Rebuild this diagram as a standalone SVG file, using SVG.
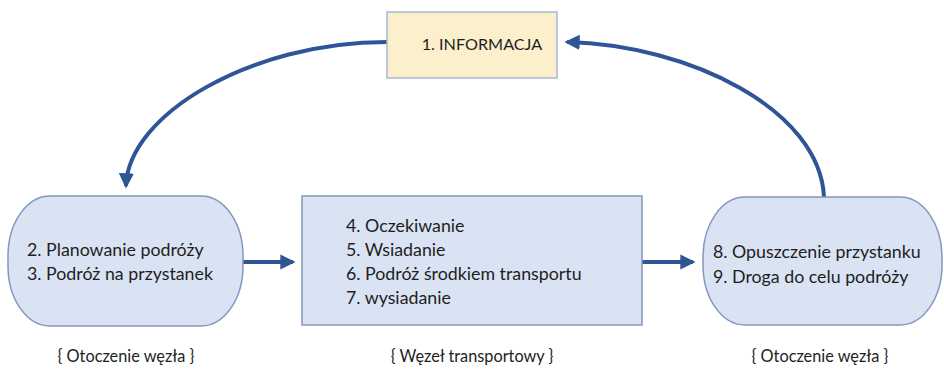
<svg xmlns="http://www.w3.org/2000/svg" width="944" height="372" viewBox="0 0 944 372">
<style>
.t{font-family:Lato,"Open Sans","Liberation Sans",sans-serif;font-size:17.8px;fill:#1E1E1E}
.lbl{font-family:Lato,"Open Sans","Liberation Sans",sans-serif;font-size:16.3px;fill:#1E1E1E;text-anchor:middle}
.node{fill:#DAE3F3;stroke:#8497BE;stroke-width:1.5}
.con{fill:none;stroke:#2F5597;stroke-width:4}
</style>
<defs>
<marker id="ah" viewBox="0 0 12 12" refX="10" refY="6" markerWidth="3.8" markerHeight="3.8" orient="auto" markerUnits="strokeWidth">
<path d="M0,0 L12,6 L0,12 z" fill="#2F5597"/>
</marker>
</defs>
<rect width="944" height="372" fill="#fff"/>
<g id="connectors">
<path class="con" d="M387,42 C250,42 128,115 126,186" marker-end="url(#ah)"/>
<path class="con" d="M824,197 C820,110 690,45 567,42" marker-end="url(#ah)"/>
<path class="con" d="M243,262 L293,262" marker-end="url(#ah)"/>
<path class="con" d="M642,262 L693,262" marker-end="url(#ah)"/>
</g>
<g id="n1">
<rect x="387" y="12" width="170" height="66" fill="#FCEFCB" stroke="#A9B8D6" stroke-width="1.5"/>
<text class="t" x="482" y="50" text-anchor="middle" style="font-size:16.2px">1. INFORMACJA</text>
</g>
<g id="n2">
<rect class="node" x="8" y="196" width="235" height="130" rx="42" ry="60"/>
<text class="t" x="27" y="256">2. Planowanie podróży</text>
<text class="t" x="27" y="280">3. Podróż na przystanek</text>
</g>
<g id="n3">
<rect class="node" x="302" y="196" width="340" height="129"/>
<text class="t" x="346" y="232">4. Oczekiwanie</text>
<text class="t" x="346" y="256">5. Wsiadanie</text>
<text class="t" x="346" y="280">6. Podróż środkiem transportu</text>
<text class="t" x="346" y="304">7. wysiadanie</text>
</g>
<g id="n4">
<rect class="node" x="703" y="197" width="239" height="128" rx="42" ry="60"/>
<text class="t" x="713" y="258">8. Opuszczenie przystanku</text>
<text class="t" x="713" y="283">9. Droga do celu podróży</text>
</g>
<g id="labels">
<text class="lbl" x="126" y="362">{ Otoczenie węzła }</text>
<text class="lbl" x="472" y="362">{ Węzeł transportowy }</text>
<text class="lbl" x="820" y="362">{ Otoczenie węzła }</text>
</g>
</svg>
